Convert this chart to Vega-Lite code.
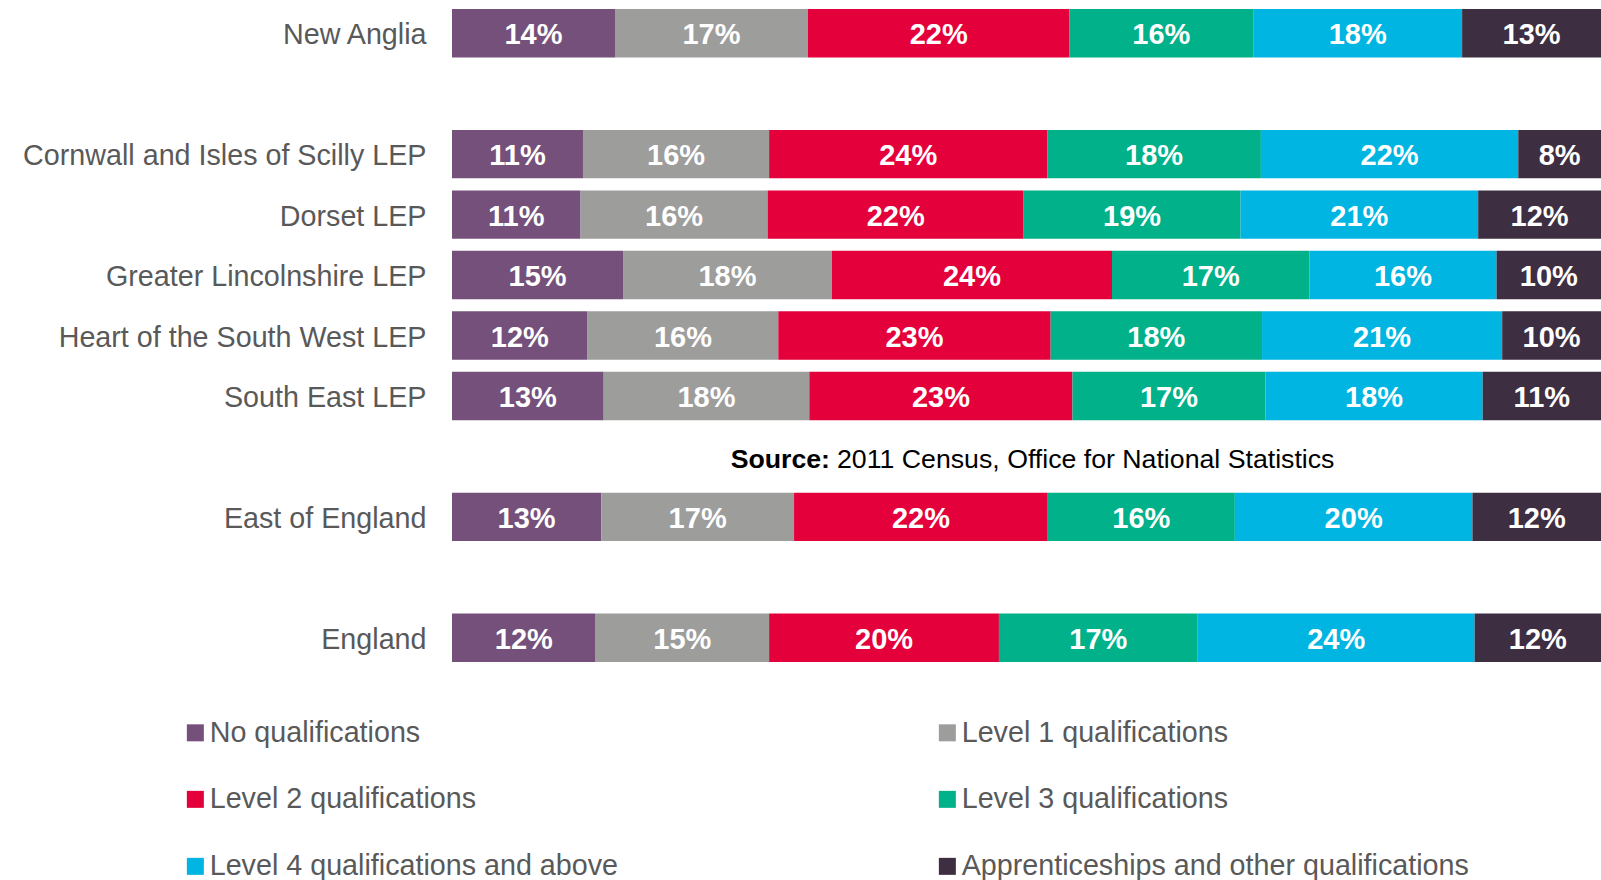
{
  "$schema": "https://vega.github.io/schema/vega-lite/v6.json",
  "width": 1149,
  "height": 665,
  "autosize": {"type": "none"},
  "padding": {"left": 452, "top": 3, "right": 0, "bottom": 212},
  "background": "white",
  "config": {
    "font": "Liberation Sans",
    "view": {"stroke": null}
  },
  "datasets": {
    "bars": [
      {"region": "New Anglia", "qual": "No qualifications", "qi": 0, "share": 14.2, "label": "14%"},
      {"region": "New Anglia", "qual": "Level 1 qualifications", "qi": 1, "share": 16.8, "label": "17%"},
      {"region": "New Anglia", "qual": "Level 2 qualifications", "qi": 2, "share": 22.8, "label": "22%"},
      {"region": "New Anglia", "qual": "Level 3 qualifications", "qi": 3, "share": 16.0, "label": "16%"},
      {"region": "New Anglia", "qual": "Level 4 qualifications and above", "qi": 4, "share": 18.2, "label": "18%"},
      {"region": "New Anglia", "qual": "Apprenticeships and other qualifications", "qi": 5, "share": 12.1, "label": "13%"},

      {"region": "Cornwall and Isles of Scilly LEP", "qual": "No qualifications", "qi": 0, "share": 11.4, "label": "11%"},
      {"region": "Cornwall and Isles of Scilly LEP", "qual": "Level 1 qualifications", "qi": 1, "share": 16.2, "label": "16%"},
      {"region": "Cornwall and Isles of Scilly LEP", "qual": "Level 2 qualifications", "qi": 2, "share": 24.2, "label": "24%"},
      {"region": "Cornwall and Isles of Scilly LEP", "qual": "Level 3 qualifications", "qi": 3, "share": 18.6, "label": "18%"},
      {"region": "Cornwall and Isles of Scilly LEP", "qual": "Level 4 qualifications and above", "qi": 4, "share": 22.4, "label": "22%"},
      {"region": "Cornwall and Isles of Scilly LEP", "qual": "Apprenticeships and other qualifications", "qi": 5, "share": 7.2, "label": "8%"},

      {"region": "Dorset LEP", "qual": "No qualifications", "qi": 0, "share": 11.2, "label": "11%"},
      {"region": "Dorset LEP", "qual": "Level 1 qualifications", "qi": 1, "share": 16.3, "label": "16%"},
      {"region": "Dorset LEP", "qual": "Level 2 qualifications", "qi": 2, "share": 22.3, "label": "22%"},
      {"region": "Dorset LEP", "qual": "Level 3 qualifications", "qi": 3, "share": 18.9, "label": "19%"},
      {"region": "Dorset LEP", "qual": "Level 4 qualifications and above", "qi": 4, "share": 20.7, "label": "21%"},
      {"region": "Dorset LEP", "qual": "Apprenticeships and other qualifications", "qi": 5, "share": 10.7, "label": "12%"},

      {"region": "Greater Lincolnshire LEP", "qual": "No qualifications", "qi": 0, "share": 14.9, "label": "15%"},
      {"region": "Greater Lincolnshire LEP", "qual": "Level 1 qualifications", "qi": 1, "share": 18.2, "label": "18%"},
      {"region": "Greater Lincolnshire LEP", "qual": "Level 2 qualifications", "qi": 2, "share": 24.4, "label": "24%"},
      {"region": "Greater Lincolnshire LEP", "qual": "Level 3 qualifications", "qi": 3, "share": 17.2, "label": "17%"},
      {"region": "Greater Lincolnshire LEP", "qual": "Level 4 qualifications and above", "qi": 4, "share": 16.3, "label": "16%"},
      {"region": "Greater Lincolnshire LEP", "qual": "Apprenticeships and other qualifications", "qi": 5, "share": 9.1, "label": "10%"},

      {"region": "Heart of the South West LEP", "qual": "No qualifications", "qi": 0, "share": 11.8, "label": "12%"},
      {"region": "Heart of the South West LEP", "qual": "Level 1 qualifications", "qi": 1, "share": 16.6, "label": "16%"},
      {"region": "Heart of the South West LEP", "qual": "Level 2 qualifications", "qi": 2, "share": 23.7, "label": "23%"},
      {"region": "Heart of the South West LEP", "qual": "Level 3 qualifications", "qi": 3, "share": 18.4, "label": "18%"},
      {"region": "Heart of the South West LEP", "qual": "Level 4 qualifications and above", "qi": 4, "share": 20.9, "label": "21%"},
      {"region": "Heart of the South West LEP", "qual": "Apprenticeships and other qualifications", "qi": 5, "share": 8.6, "label": "10%"},

      {"region": "South East LEP", "qual": "No qualifications", "qi": 0, "share": 13.2, "label": "13%"},
      {"region": "South East LEP", "qual": "Level 1 qualifications", "qi": 1, "share": 17.9, "label": "18%"},
      {"region": "South East LEP", "qual": "Level 2 qualifications", "qi": 2, "share": 22.9, "label": "23%"},
      {"region": "South East LEP", "qual": "Level 3 qualifications", "qi": 3, "share": 16.8, "label": "17%"},
      {"region": "South East LEP", "qual": "Level 4 qualifications and above", "qi": 4, "share": 18.9, "label": "18%"},
      {"region": "South East LEP", "qual": "Apprenticeships and other qualifications", "qi": 5, "share": 10.3, "label": "11%"},

      {"region": "East of England", "qual": "No qualifications", "qi": 0, "share": 13.0, "label": "13%"},
      {"region": "East of England", "qual": "Level 1 qualifications", "qi": 1, "share": 16.8, "label": "17%"},
      {"region": "East of England", "qual": "Level 2 qualifications", "qi": 2, "share": 22.1, "label": "22%"},
      {"region": "East of England", "qual": "Level 3 qualifications", "qi": 3, "share": 16.3, "label": "16%"},
      {"region": "East of England", "qual": "Level 4 qualifications and above", "qi": 4, "share": 20.7, "label": "20%"},
      {"region": "East of England", "qual": "Apprenticeships and other qualifications", "qi": 5, "share": 11.2, "label": "12%"},

      {"region": "England", "qual": "No qualifications", "qi": 0, "share": 12.5, "label": "12%"},
      {"region": "England", "qual": "Level 1 qualifications", "qi": 1, "share": 15.1, "label": "15%"},
      {"region": "England", "qual": "Level 2 qualifications", "qi": 2, "share": 20.0, "label": "20%"},
      {"region": "England", "qual": "Level 3 qualifications", "qi": 3, "share": 17.3, "label": "17%"},
      {"region": "England", "qual": "Level 4 qualifications and above", "qi": 4, "share": 24.1, "label": "24%"},
      {"region": "England", "qual": "Apprenticeships and other qualifications", "qi": 5, "share": 11.0, "label": "12%"}
    ],
    "source": [
      {"region": "  ", "bold": "Source:", "rest": "2011 Census, Office for National Statistics"}
    ]
  },
  "layer": [
    {
      "data": {"name": "bars"},
      "mark": {"type": "bar", "stroke": null},
      "encoding": {
        "y": {
          "field": "region",
          "type": "nominal",
          "scale": {
            "domain": ["New Anglia", " ", "Cornwall and Isles of Scilly LEP", "Dorset LEP", "Greater Lincolnshire LEP", "Heart of the South West LEP", "South East LEP", "  ", "East of England", "   ", "England"],
            "paddingInner": 0.2,
            "paddingOuter": 0.1
          },
          "axis": {
            "title": null,
            "domain": false,
            "ticks": false,
            "labelFontSize": 28.7,
            "labelColor": "#595959",
            "labelPadding": 26,
            "labelOffset": 2,
            "labelLimit": 600
          }
        },
        "x": {
          "field": "share",
          "type": "quantitative",
          "stack": "normalize",
          "axis": null,
          "scale": {"domain": [0, 1], "nice": false}
        },
        "order": {"field": "qi", "type": "quantitative"},
        "color": {
          "field": "qual",
          "type": "nominal",
          "scale": {
            "domain": ["No qualifications", "Level 1 qualifications", "Level 2 qualifications", "Level 3 qualifications", "Level 4 qualifications and above", "Apprenticeships and other qualifications"],
            "range": ["#75507B", "#9D9D9C", "#E4003B", "#00B189", "#00B5E2", "#3E2E42"]
          },
          "legend": {
            "title": null,
            "orient": "none",
            "legendX": -271,
            "legendY": 715,
            "direction": "horizontal",
            "columns": 2,
            "columnPadding": 315,
            "rowPadding": 37,
            "symbolType": "square",
            "symbolSize": 289,
            "symbolStrokeWidth": 0,
            "labelFontSize": 28.7,
            "labelColor": "#595959",
            "labelOffset": 0,
            "labelLimit": 800
          }
        }
      }
    },
    {
      "data": {"name": "bars"},
      "mark": {"type": "text", "color": "white", "fontWeight": "bold", "fontSize": 29, "baseline": "middle", "align": "center", "dy": 2},
      "encoding": {
        "y": {"field": "region", "type": "nominal"},
        "x": {"field": "share", "type": "quantitative", "stack": "normalize", "bandPosition": 0.5},
        "order": {"field": "qi", "type": "quantitative"},
        "text": {"field": "label", "type": "nominal"}
      }
    },
    {
      "data": {"name": "source"},
      "mark": {"type": "text", "color": "black", "fontWeight": "bold", "fontSize": 26.7, "baseline": "middle", "align": "right", "dy": 4},
      "encoding": {
        "y": {"field": "region", "type": "nominal"},
        "x": {"datum": 0.329, "type": "quantitative"},
        "text": {"field": "bold", "type": "nominal"}
      }
    },
    {
      "data": {"name": "source"},
      "mark": {"type": "text", "color": "black", "fontSize": 26.7, "baseline": "middle", "align": "left", "dx": 7, "dy": 4},
      "encoding": {
        "y": {"field": "region", "type": "nominal"},
        "x": {"datum": 0.329, "type": "quantitative"},
        "text": {"field": "rest", "type": "nominal"}
      }
    }
  ]
}
